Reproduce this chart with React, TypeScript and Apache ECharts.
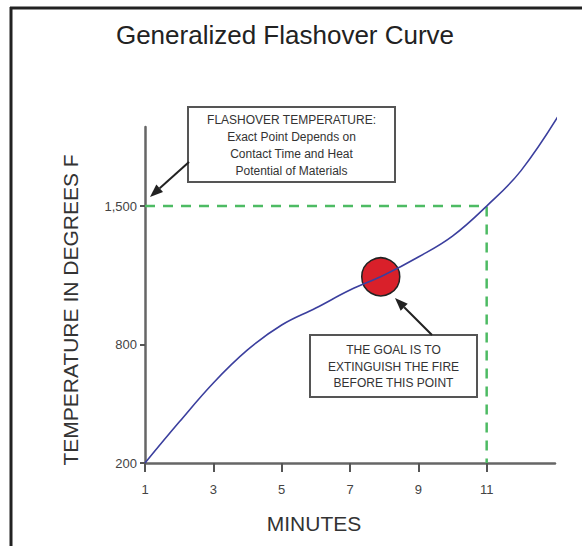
import React, { useEffect, useRef } from "react";
import * as echarts from "echarts";

// ---- data ----
const minutes = [1, 2, 3, 4, 5, 6, 7, 8, 9, 10, 11, 12, 13.2];
const temps = [200, 407, 605, 772, 898, 984, 1075, 1151, 1242, 1348, 1500, 1678, 1985];
const xTicks = [1, 3, 5, 7, 9, 11];
const yTicks = [200, 800, 1500];
const flashoverMinute = 11;
const flashoverTemp = 1500;
const goalMinute = 7.9;
const goalTemp = 1142;

const titleText = "Generalized Flashover Curve";
const xName = "MINUTES";
const yName = "TEMPERATURE IN DEGREES F";
const box1Lines = ["FLASHOVER TEMPERATURE:", "Exact Point Depends on", "Contact Time and Heat", "Potential of Materials"];
const box2Lines = ["THE GOAL IS TO", "EXTINGUISH THE FIRE", "BEFORE THIS POINT"];

const FONT = "'Liberation Sans', Arial, Helvetica, sans-serif";

function arrow(x1: number, y1: number, x2: number, y2: number, color: string) {
  const dx = x2 - x1;
  const dy = y2 - y1;
  const len = Math.sqrt(dx * dx + dy * dy);
  const ux = dx / len;
  const uy = dy / len;
  const hl = 13;
  const hw = 5;
  const bx = x2 - ux * hl;
  const by = y2 - uy * hl;
  const px = -uy * hw;
  const py = ux * hw;
  return [
    { type: "line", shape: { x1, y1, x2: bx, y2: by }, style: { stroke: color, lineWidth: 2 } },
    {
      type: "polygon",
      shape: { points: [[x2, y2], [bx + px, by + py], [bx - px, by - py]] },
      style: { fill: color },
    },
  ];
}

export default function App() {
  const ref = useRef<HTMLDivElement>(null);
  useEffect(() => {
    if (!ref.current) return;
    const chart = echarts.init(ref.current, undefined, { renderer: "svg" });
    const curve = minutes.map((m, i) => [m, temps[i]]);
    const option: any = {
      animation: false,
      backgroundColor: "#ffffff",
      grid: { left: 145, right: 27, top: 127, bottom: 83, outerBoundsMode: "none" },
      xAxis: {
        type: "value",
        min: 1,
        max: 13,
        splitLine: { show: false },
        axisLine: { lineStyle: { color: "#666666", width: 2.5 } },
        axisTick: { customValues: xTicks, length: 9, lineStyle: { color: "#555555", width: 2 } },
        axisLabel: {
          customValues: xTicks,
          margin: 20,
          color: "#444444",
          fontSize: 13,
          fontFamily: FONT,
        },
      },
      yAxis: {
        type: "value",
        min: 200,
        max: 1900,
        splitLine: { show: false },
        axisLine: { lineStyle: { color: "#666666", width: 2.5 } },
        axisTick: { customValues: yTicks, length: 5, lineStyle: { color: "#555555", width: 2 } },
        axisLabel: {
          customValues: yTicks,
          margin: 8,
          color: "#444444",
          fontSize: 13,
          fontFamily: FONT,
          formatter: (v: number) => v.toLocaleString("en-US"),
        },
      },
      series: [
        {
          type: "line",
          name: "flashover",
          data: [
            [xTicks[0], flashoverTemp],
            [flashoverMinute, flashoverTemp],
            [flashoverMinute, yTicks[0]],
          ],
          symbol: "none",
          lineStyle: { color: "#4dbb63", width: 2.5, type: [10, 8] },
          silent: true,
          z: 2,
        },
        {
          type: "scatter",
          name: "goal",
          data: [[goalMinute, goalTemp]],
          symbol: "circle",
          symbolSize: 38,
          itemStyle: { color: "#d9202a", borderColor: "#222222", borderWidth: 1.5, opacity: 1 },
          z: 3,
        },
        {
          type: "line",
          name: "temperature",
          data: curve,
          smooth: 0.4,
          symbol: "none",
          clip: false,
          lineStyle: { color: "#3b3f9e", width: 1.6 },
          z: 4,
        },
      ],
      graphic: [
        // frame
        { type: "line", shape: { x1: 11, y1: 7, x2: 11, y2: 546 }, style: { stroke: "#222222", lineWidth: 3 } },
        { type: "line", shape: { x1: 10, y1: 8, x2: 582, y2: 8 }, style: { stroke: "#222222", lineWidth: 3 } },
        // title
        {
          type: "text",
          x: 285,
          y: 35,
          style: {
            text: titleText,
            fill: "#222222",
            font: `26px ${FONT}`,
            textAlign: "center",
            textVerticalAlign: "middle",
          },
        },
        // y name
        {
          type: "text",
          x: 70,
          y: 310,
          rotation: Math.PI / 2,
          style: {
            text: yName,
            fill: "#333333",
            font: `21px ${FONT}`,
            textAlign: "center",
            textVerticalAlign: "middle",
          },
        },
        // x name
        {
          type: "text",
          x: 314,
          y: 523,
          style: {
            text: xName,
            fill: "#333333",
            font: `21px ${FONT}`,
            textAlign: "center",
            textVerticalAlign: "middle",
          },
        },
        // box 1
        {
          type: "rect",
          shape: { x: 188, y: 107, width: 207, height: 75 },
          style: { fill: "#ffffff", stroke: "#555555", lineWidth: 2 },
        },
        {
          type: "text",
          x: 291.5,
          y: 145,
          style: {
            text: box1Lines.join("\n"),
            fill: "#333333",
            font: `12px ${FONT}`,
            lineHeight: 17,
            textAlign: "center",
            textVerticalAlign: "middle",
          },
        },
        ...arrow(189, 162, 150, 197, "#222222"),
        // box 2
        {
          type: "rect",
          shape: { x: 310, y: 335, width: 167, height: 62 },
          style: { fill: "#ffffff", stroke: "#555555", lineWidth: 2 },
        },
        {
          type: "text",
          x: 393.5,
          y: 366.5,
          style: {
            text: box2Lines.join("\n"),
            fill: "#333333",
            font: `12px ${FONT}`,
            lineHeight: 16.5,
            textAlign: "center",
            textVerticalAlign: "middle",
          },
        },
        ...arrow(432, 335, 395, 298, "#222222"),
      ],
    };
    chart.setOption(option);
    return () => chart.dispose();
  }, []);
  return (
    <div
      ref={ref}
      style={{ position: "fixed", left: 0, top: 0, width: 582, height: 546, background: "#ffffff" }}
    />
  );
}
